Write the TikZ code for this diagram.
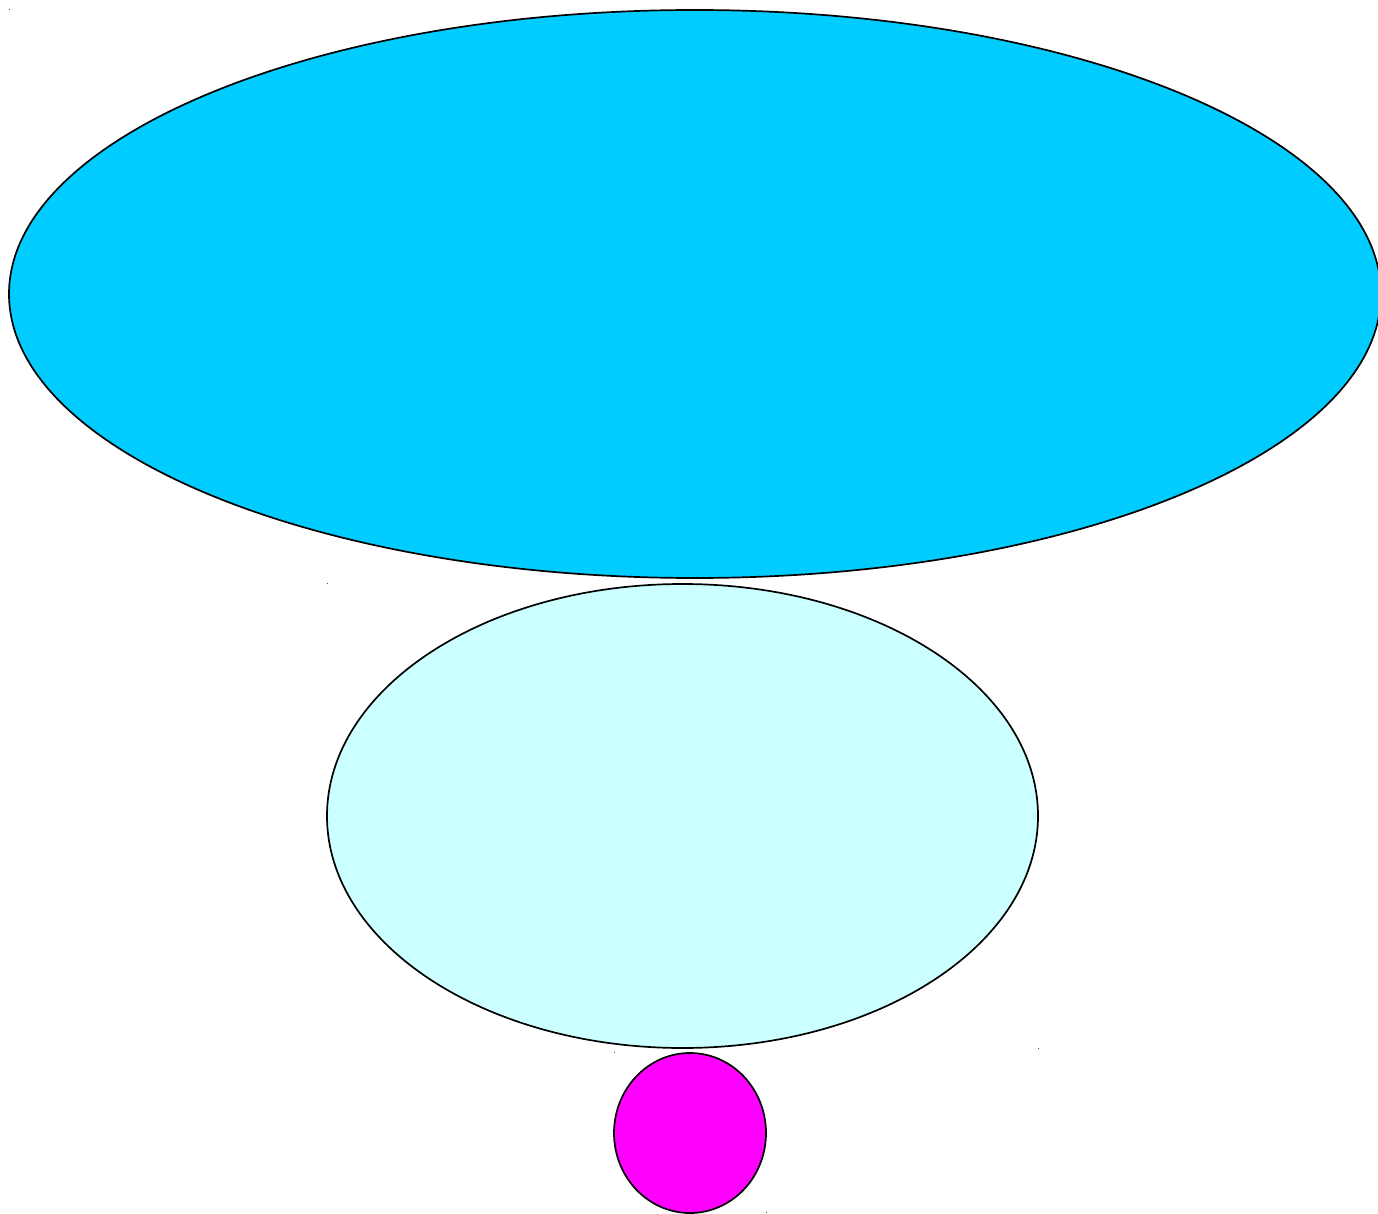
\documentclass[tikz,border=0pt]{standalone}
\usetikzlibrary{shapes.geometric}
\definecolor{bigblue}{HTML}{00CCFF}
\definecolor{paleblue}{HTML}{CCFFFF}
\definecolor{magen}{HTML}{FF00FF}
\begin{document}
\begin{tikzpicture}[x=1pt,y=-1pt,
  blob/.style={ellipse,draw=black,line width=1.7pt,inner sep=0pt},
  speck/.style={fill=black!70,inner sep=0pt,minimum size=1pt}]
\useasboundingbox (0,0) rectangle (1378,1214);
\clip (0,0) rectangle (1378,1214);
\fill[white] (0,0) rectangle (1378,1214);
\node[blob,fill=bigblue,minimum width=1372pt,minimum height=568pt] (top) at (695,294) {};
\node[blob,fill=paleblue,minimum width=711pt,minimum height=464pt] (mid) at (682.5,816) {};
\node[blob,fill=magen,minimum width=152pt,minimum height=160pt] (bot) at (690,1133) {};
\node[speck] (s1) at (9,10) {};
\node[speck] (s2) at (327,583) {};
\node[speck] (s3) at (614,1052) {};
\node[speck] (s4) at (1038,1048) {};
\node[speck] (s5) at (766,1212) {};
\end{tikzpicture}
\end{document}
